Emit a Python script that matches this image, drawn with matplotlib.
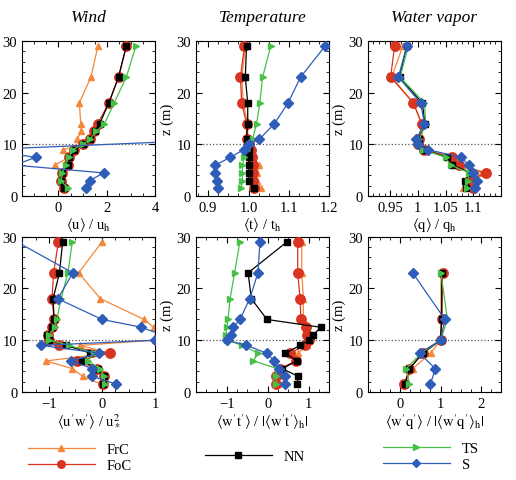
import numpy as np
import matplotlib
matplotlib.use('Agg')
import matplotlib.pyplot as plt
from matplotlib.ticker import AutoMinorLocator, MultipleLocator
from matplotlib.lines import Line2D

plt.rcParams['font.family'] = ['Liberation Serif', 'DejaVu Serif']
plt.rcParams['mathtext.fontset'] = 'stix'

# heights (m)
z_all = [1.5, 3, 4.5, 6, 7.5, 9, 10, 11, 12.5, 14, 18, 23, 29]
z_no10 = [1.5, 3, 4.5, 6, 7.5, 9, 11, 12.5, 14, 18, 23, 29]
z_temp = [1.5, 3, 4.5, 6, 7.5, 9, 10, 11, 14, 18, 23, 29]
z_wq = [1.5, 4.5, 7.5, 10, 14, 23]

# Wind  <u>/u_h
u_frc = [0.15, 0.10, 0.12, -0.14, 0.42, 0.19, 1.0, 0.77, 0.95, 0.92, 0.86, 1.34, 1.63]
u_foc = [0.22, 0.11, 0.16, 0.41, 0.45, 0.66, 1.0, 1.29, 1.47, 1.62, 2.08, 2.48, 2.80]
u_nn = [0.22, 0.11, 0.16, 0.41, 0.45, 0.66, 1.0, 1.29, 1.50, 1.70, 2.08, 2.48, 2.80]
u_ts = [0.38, 0.11, 0.16, 0.29, 0.42, 0.60, 1.0, 1.30, 1.55, 1.90, 2.30, 2.80, 3.20]
u_s = [1.15, 1.29, 1.86, -1.8, -0.95, -3.0, 7.0, 8.0, 9.0, 10.0, 12.0, 14.0]

# Temperature  <t>/t_h
t_frc = [1.030, 1.020, 1.020, 1.027, 1.012, 1.008, 1.0, 0.998, 0.998, 0.987, 0.983, 0.993]
t_foc = [1.013, 1.010, 1.010, 1.010, 1.008, 1.005, 1.0, 0.995, 0.995, 0.983, 0.980, 0.990]
t_nn = [1.013, 1.000, 1.000, 1.000, 1.000, 1.000, 1.0, 0.995, 0.998, 0.998, 0.992, 0.995]
t_ts = [0.982, 0.985, 0.985, 0.985, 0.990, 0.997, 1.0, 1.010, 1.020, 1.028, 1.035, 1.055]
t_s = [0.925, 0.921, 0.917, 0.917, 0.955, 0.988, 1.0, 1.027, 1.064, 1.098, 1.129, 1.190]

# Water vapor  <q>/q_h
q_frc = [1.082, 1.097, 1.115, 1.082, 1.063, 1.012, 1.0, 1.002, 1.007, 0.992, 0.953, 0.973]
q_foc = [1.100, 1.093, 1.122, 1.075, 1.061, 1.012, 1.0, 1.003, 1.007, 0.992, 0.951, 0.958]
q_nn = [1.087, 1.085, 1.097, 1.062, 1.053, 1.010, 1.0, 1.003, 1.013, 1.008, 0.967, 0.980]
q_ts = [1.088, 1.090, 1.093, 1.059, 1.050, 1.010, 1.0, 1.003, 1.014, 1.012, 0.968, 0.983]
q_s = [1.103, 1.106, 1.100, 1.092, 1.078, 1.018, 1.0, 0.997, 1.012, 1.005, 0.965, 0.980]

# Momentum flux  <u'w'>/u*^2
uw_frc = [-0.01, -0.36, -0.56, -1.05, 0.15, -0.42, 1.0, 1.02, 0.97, 0.79, -0.03, -0.44, 0.0]
uw_foc = [0.02, 0.04, -0.10, -0.47, 0.15, -0.81, -1.0, -1.02, -0.94, -0.90, -0.94, -0.91, -0.82]
uw_nn = [0.02, 0.04, -0.08, -0.37, -0.22, -0.67, -1.0, -1.04, -0.94, -0.90, -0.92, -0.80, -0.74]
uw_ts = [0.05, 0.04, -0.04, -0.27, -0.15, -0.62, -1.0, -1.00, -0.89, -0.85, -0.77, -0.64, -0.56]
uw_s = [0.27, -0.18, -0.18, -0.58, -0.05, -1.14, 1.0, 1.13, 0.74, 0.0, -0.83, -0.55, -1.60]

# Heat flux  <w't'>/|<w't'>_h|
wt_frc = [0.24, 0.27, 0.35, 0.67, 0.75, 0.95, 1.0, 0.99, 0.95, 0.87, 0.87, 0.83, 0.83]
wt_foc = [0.21, 0.21, 0.30, 0.69, 0.55, 0.91, 1.0, 0.95, 0.94, 0.81, 0.79, 0.73, 0.73]
wt_nn = [0.71, 0.75, 0.35, 0.71, 0.43, 0.79, 1.0, 1.11, 1.29, -0.02, -0.40, -0.48, 0.47]
wt_ts = [0.21, 0.21, 0.24, -0.35, -0.24, -0.62, -1.0, -1.02, -1.0, -0.97, -0.92, -0.81, -0.68]
wt_s = [0.43, 0.43, 0.27, 0.16, -0.03, -0.52, -1.0, -0.89, -0.84, -0.68, -0.44, -0.24, -0.19]

# Water vapor flux  <w'q'>/|<w'q'>_h|
wq_frc = [0.10, 0.31, 0.76, 1.0, 1.01, 1.01]
wq_foc = [0.10, 0.23, 0.56, 1.0, 1.03, 1.05]
wq_nn = [0.12, 0.23, 0.56, 1.0, 1.03, 1.03]
wq_ts = [0.23, 0.15, 0.52, 1.0, 1.17, 1.01]
wq_s = [0.75, 0.87, 0.48, 1.0, 1.11, 0.31]

names = ['FrC', 'FoC', 'NN', 'TS', 'S']
colors = ['#f4873a', '#d9341f', 'black', '#46c046', '#2d5db8']
markers = ['^', 'o', 's', '>', 'D']
msizes = [5, 6.8, 5, 5, 5]

fig = plt.figure(figsize=(5.16, 4.81), dpi=100)

left = [0.043, 0.380, 0.713]
bottom = [0.590, 0.183]
w, h = 0.258, 0.323

panels = [
    ([z_all, z_all, z_all, z_all, z_no10], [u_frc, u_foc, u_nn, u_ts, u_s],
     (-1.5, 4), 2, r'$\langle\mathrm{u}\rangle$ / u$_\mathrm{h}$', 'Wind'),
    ([z_temp] * 5, [t_frc, t_foc, t_nn, t_ts, t_s],
     (0.87, 1.2), 0.1, r'$\langle\mathrm{t}\rangle$ / t$_\mathrm{h}$', 'Temperature'),
    ([z_temp] * 5, [q_frc, q_foc, q_nn, q_ts, q_s],
     (0.91, 1.15), 0.05, r'$\langle\mathrm{q}\rangle$ / q$_\mathrm{h}$', 'Water vapor'),
    ([z_all] * 5, [uw_frc, uw_foc, uw_nn, uw_ts, uw_s],
     (-1.5, 1), 1, r"$\langle\mathrm{u'w'}\rangle$ / u$_*^2$", None),
    ([z_all] * 5, [wt_frc, wt_foc, wt_nn, wt_ts, wt_s],
     (-1.75, 1.5), 1, r"$\langle\mathrm{w't'}\rangle$ / $|\langle\mathrm{w't'}\rangle_\mathrm{h}|$", None),
    ([z_wq] * 5, [wq_frc, wq_foc, wq_nn, wq_ts, wq_s],
     (-0.8, 2.5), 1, r"$\langle\mathrm{w'q'}\rangle$ / $|\langle\mathrm{w'q'}\rangle_\mathrm{h}|$", None),
]

for i, (zs, vals, xlim, major, xlabel, title) in enumerate(panels):
    ax = fig.add_axes([left[i % 3], bottom[i // 3], w, h])
    ax.axhline(10, color='#555555', ls=':', lw=0.9, zorder=1)
    for k in range(5):
        ax.plot(vals[k], zs[k], color=colors[k], marker=markers[k], ms=msizes[k],
                lw=0.9, mec=colors[k], zorder=2 + k)
    ax.set_xlim(*xlim)
    ax.set_ylim(0, 30)
    ax.xaxis.set_major_locator(MultipleLocator(major))
    ax.yaxis.set_major_locator(MultipleLocator(10))
    ax.xaxis.set_minor_locator(AutoMinorLocator(4 if major != 0.05 else 5))
    ax.yaxis.set_minor_locator(AutoMinorLocator(5))
    ax.tick_params(which='both', direction='in', top=True, right=True, labelsize=10.5)
    ax.tick_params(which='major', length=4)
    ax.tick_params(which='minor', length=2)
    if i == 2:
        ax.set_xticks([0.95, 1, 1.05, 1.1])
        ax.set_xticklabels(['0.95', '1', '1.05', '1.1'])
    ax.set_xlabel(xlabel, fontsize=10.5, labelpad=1)
    ax.set_ylabel('z (m)', fontsize=10.5, labelpad=2)
    if title:
        ax.set_title(title, fontsize=12.5, style='italic', pad=14)

handles = [Line2D([], [], color=colors[k], marker=markers[k], ms=msizes[k] * 0.8, lw=0.9)
           for k in range(5)]
legend_kw = dict(frameon=False, loc='upper left', borderpad=0, borderaxespad=0,
                 handlelength=4.6, handletextpad=0.8, labelspacing=0.2, fontsize=10.5,
                 numpoints=1)
fig.legend(handles[0:2], names[0:2], bbox_to_anchor=(0.054, 0.077), **legend_kw)
fig.legend(handles[2:3], names[2:3], bbox_to_anchor=(0.397, 0.063), **legend_kw)
fig.legend(handles[3:5], names[3:5], bbox_to_anchor=(0.742, 0.079), **legend_kw)

fig.savefig('out.png', dpi=100)
